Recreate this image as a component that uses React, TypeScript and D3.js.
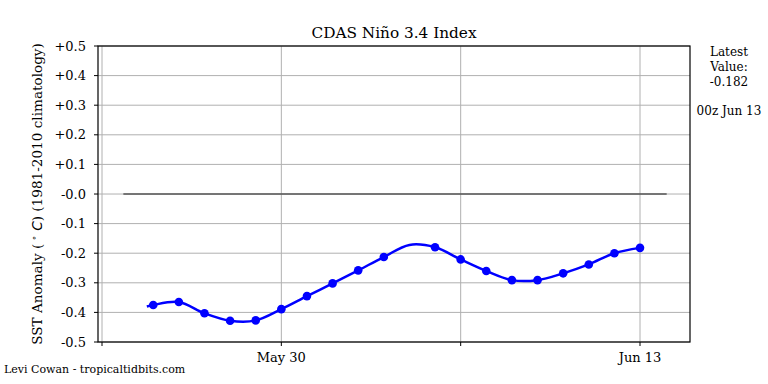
import React from 'react'
import * as d3 from 'd3'

// daily 00z values, May 25 .. Jun 13 (Jun 4 has no marker in the original)
const DAYS = [
  '2024-05-25', '2024-05-26', '2024-05-27', '2024-05-28', '2024-05-29',
  '2024-05-30', '2024-05-31', '2024-06-01', '2024-06-02', '2024-06-03',
  '2024-06-04', '2024-06-05', '2024-06-06', '2024-06-07', '2024-06-08',
  '2024-06-09', '2024-06-10', '2024-06-11', '2024-06-12', '2024-06-13'
]
const VALUES = [
  -0.375, -0.365, -0.403, -0.428, -0.427,
  -0.389, -0.345, -0.302, -0.258, -0.213,
  -0.172, -0.180, -0.221, -0.260, -0.291,
  -0.291, -0.268, -0.238, -0.200, -0.182
]
const MARKED = [
  true, true, true, true, true,
  true, true, true, true, true,
  false, true, true, true, true,
  true, true, true, true, true
]
// the line starts a little before the first marker
const LINE_START = { time: '2024-05-24T18:00:00Z', value: -0.38 }

const Y_TICKS = [0.5, 0.4, 0.3, 0.2, 0.1, -0.0001, -0.1, -0.2, -0.3, -0.4, -0.5]
const X_TICKS = ['2024-05-23', '2024-05-30', '2024-06-06', '2024-06-13']
const X_LABELS = ['', 'May 30', '', 'Jun 13']

const TITLE = 'CDAS Niño 3.4 Index'
const LATEST = ['Latest', 'Value:', '-0.182']
const LATEST_TIME = '00z Jun 13'
const CREDIT = 'Levi Cowan - tropicaltidbits.com'

const W = 768
const H = 384
const margins = { top: 46, right: 78, bottom: 42, left: 98 }
const SERIF = 'DejaVu Serif, serif'

const day = (s: string) => new Date(s.length > 10 ? s : s + 'T00:00:00Z')

export default function App() {
  const x0 = margins.left
  const x1 = W - margins.right
  const y0 = margins.top
  const y1 = H - margins.bottom

  const xScale = d3.scaleUtc()
    .domain([new Date('2024-05-22T20:15:00Z'), new Date('2024-06-14T22:50:00Z')])
    .range([x0, x1])

  const yScale = d3.scaleLinear()
    .domain([-0.5, 0.5])
    .range([y1, y0])

  const pts = [
    { t: day(LINE_START.time), v: LINE_START.value },
    ...DAYS.map((d, i) => ({ t: day(d), v: VALUES[i] }))
  ]

  const line = d3.line<{ t: Date; v: number }>()
    .x(d => xScale(d.t))
    .y(d => yScale(d.v))
    .curve(d3.curveCatmullRom.alpha(0.5))

  const fmt = (v: number) => (v > 0 ? '+' : '-') + Math.abs(v).toFixed(1)

  return (
    <svg width={W} height={H} style={{ position: 'absolute', left: 0, top: 0, background: '#fff' }}>
      {/* grid */}
      {Y_TICKS.map((t, i) => (
        <line key={'gy' + i} x1={x0} x2={x1} y1={yScale(t)} y2={yScale(t)} stroke="#b0b0b0" strokeWidth={1} />
      ))}
      {X_TICKS.map((t, i) => (
        <line key={'gx' + i} x1={xScale(day(t))} x2={xScale(day(t))} y1={y0} y2={y1} stroke="#b0b0b0" strokeWidth={1} />
      ))}

      {/* zero reference */}
      <line
        x1={xScale(day('2024-05-23T20:00:00Z'))}
        x2={xScale(day('2024-06-14T01:00:00Z'))}
        y1={yScale(0)} y2={yScale(0)}
        stroke="#555" strokeWidth={1.5}
      />

      {/* series */}
      <path d={line(pts) || ''} fill="none" stroke="#0000ff" strokeWidth={2.5} />
      {DAYS.map((d, i) => MARKED[i] ? (
        <circle key={'p' + i} cx={xScale(day(d))} cy={yScale(VALUES[i])} r={4.3} fill="#0000ff" />
      ) : null)}

      {/* frame */}
      <rect x={x0} y={y0} width={x1 - x0} height={y1 - y0} fill="none" stroke="#000" strokeWidth={1.2} />

      {/* y axis */}
      {Y_TICKS.map((t, i) => (
        <g key={'ty' + i}>
          <line x1={x0 - 4} x2={x0} y1={yScale(t)} y2={yScale(t)} stroke="#000" />
          <text x={x0 - 12} y={yScale(t)} dy="0.35em" textAnchor="end" fontFamily={SERIF} fontSize={13}>{fmt(t)}</text>
        </g>
      ))}

      {/* x axis */}
      {X_TICKS.map((t, i) => (
        <g key={'tx' + i}>
          <line x1={xScale(day(t))} x2={xScale(day(t))} y1={y1} y2={y1 + 4} stroke="#000" />
          <text x={xScale(day(t))} y={y1 + 20} textAnchor="middle" fontFamily={SERIF} fontSize={13}>{X_LABELS[i]}</text>
        </g>
      ))}

      <text x={(x0 + x1) / 2} y={38} textAnchor="middle" fontFamily={SERIF} fontSize={15.3}>{TITLE}</text>

      <text transform={`translate(42,${(y0 + y1) / 2}) rotate(-90)`} textAnchor="middle" fontFamily={SERIF} fontSize={13.6}>
        SST Anomaly (
        <tspan fontFamily="DejaVu Sans" fontSize={9} dy={-5}> ∘</tspan>
        <tspan fontFamily="DejaVu Sans" fontStyle="italic" dy={5}> C</tspan>
        ) (1981-2010 climatology)
      </text>

      {LATEST.map((s, i) => (
        <text key={'l' + i} x={729} y={56 + i * 15} textAnchor="middle" fontFamily={SERIF} fontSize={12}>{s}</text>
      ))}
      <text x={729} y={115} textAnchor="middle" fontFamily={SERIF} fontSize={12}>{LATEST_TIME}</text>

      <text x={4} y={373} fontFamily={SERIF} fontSize={11}>{CREDIT}</text>
    </svg>
  )
}
